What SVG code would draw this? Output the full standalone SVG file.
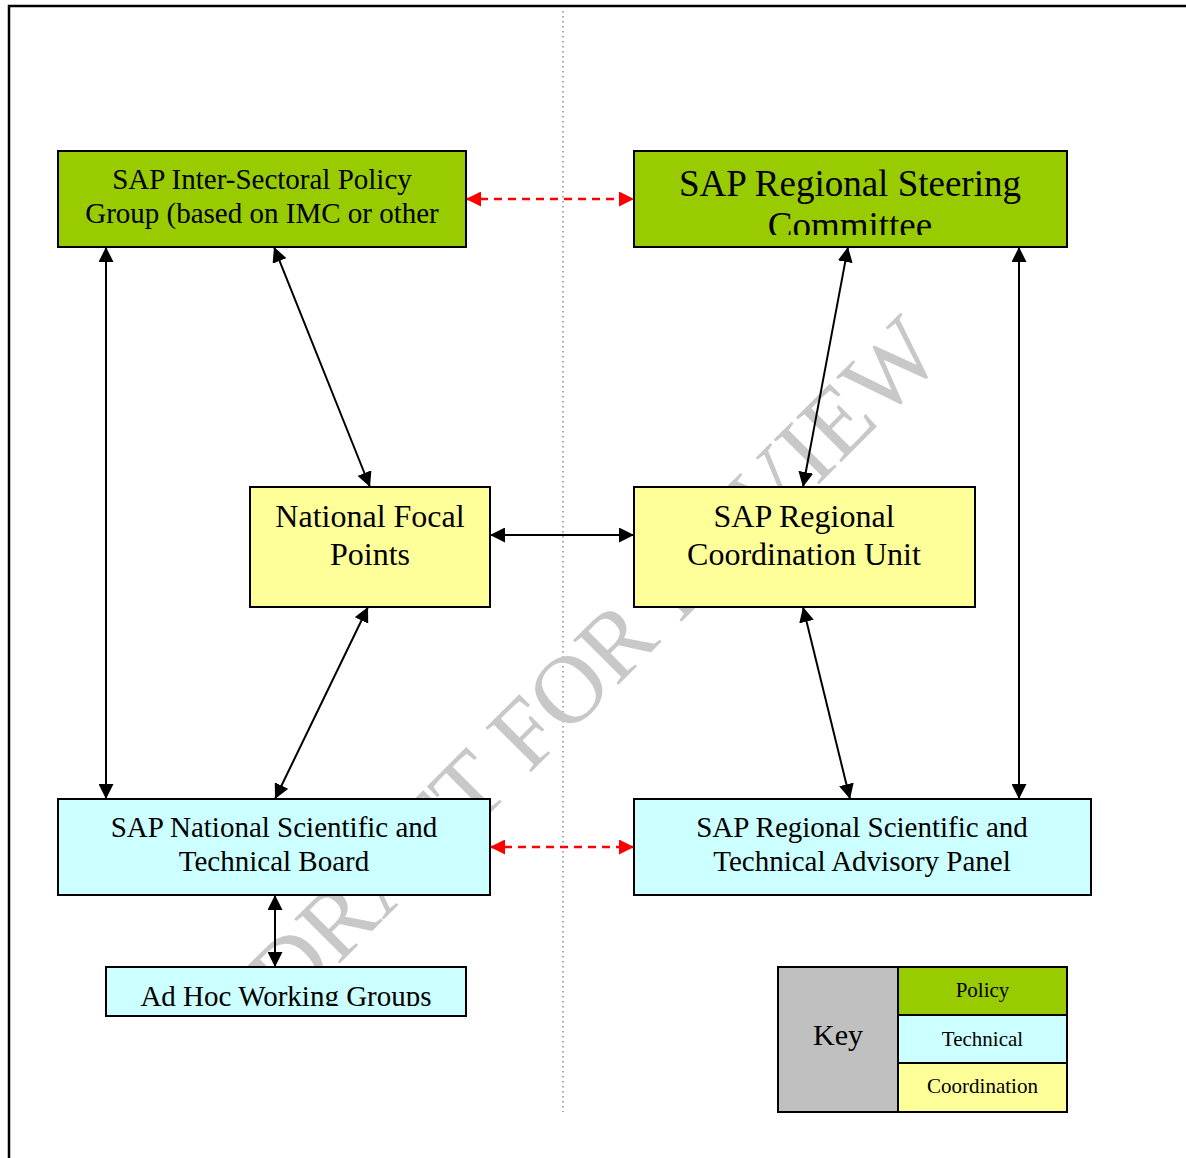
<svg xmlns="http://www.w3.org/2000/svg" width="1186" height="1158" viewBox="0 0 1186 1158">
<defs>
<style>
.box{stroke:#000;stroke-width:2}
.pol{fill:#99CC00}
.tec{fill:#CCFFFF}
.coo{fill:#FFFF99}
.key{fill:#C0C0C0}
.t{font-family:"Liberation Serif","Times New Roman",serif;fill:#000;text-anchor:middle}
.c{stroke:#000;stroke-width:2;fill:none;marker-start:url(#ab);marker-end:url(#ab)}
.r{stroke:#FF0000;stroke-width:2.5;stroke-dasharray:8 6;fill:none;marker-start:url(#ar);marker-end:url(#ar)}
</style>
<marker id="ab" markerUnits="userSpaceOnUse" markerWidth="15" markerHeight="15" refX="15" refY="7.5" orient="auto-start-reverse" viewBox="0 0 15 15">
<path d="M0,0 L15,7.5 L0,15 z" fill="#000"/>
</marker>
<marker id="ar" markerUnits="userSpaceOnUse" markerWidth="15" markerHeight="15" refX="15" refY="7.5" orient="auto-start-reverse" viewBox="0 0 15 15">
<path d="M0,0 L15,7.5 L0,15 z" fill="#FF0000"/>
</marker>
<clipPath id="clip2"><rect x="634" y="151" width="433" height="84"/></clipPath>
<clipPath id="clip7"><rect x="106" y="967" width="360" height="39"/></clipPath>
</defs>
<rect x="9" y="6" width="1300" height="1300" fill="#fff" stroke="#000" stroke-width="2.5"/>
<line x1="563" y1="11" x2="563" y2="1112" stroke="#8c8c8c" stroke-width="1.5" stroke-dasharray="1.5 3.5"/>
<g id="watermark" transform="translate(594 664) rotate(-45)">
<text x="0" y="32" font-family="Liberation Serif,serif" font-size="97" fill="#c8c8c8" text-anchor="middle">DRAFT FOR REVIEW</text>
</g>
<g id="connectors">
<line class="r" x1="466" y1="199" x2="634" y2="199"/>
<line class="r" x1="490" y1="847" x2="634" y2="847"/>
<line class="c" x1="106" y1="247" x2="106" y2="799"/>
<line class="c" x1="274" y1="247" x2="370" y2="487"/>
<line class="c" x1="848" y1="247" x2="803" y2="487"/>
<line class="c" x1="1019" y1="247" x2="1019" y2="799"/>
<line class="c" x1="490" y1="535" x2="634" y2="535"/>
<line class="c" x1="368" y1="607" x2="275" y2="799"/>
<line class="c" x1="803" y1="607" x2="850" y2="799"/>
<line class="c" x1="275" y1="895" x2="275" y2="967"/>
</g>
<g id="policy-group">
<rect class="box pol" x="58" y="151" width="408" height="96"/>
<text class="t" font-size="29" x="262" y="189">SAP Inter-Sectoral Policy</text>
<text class="t" font-size="29" x="262" y="223">Group (based on IMC or other</text>
</g>
<g id="steering-committee">
<rect class="box pol" x="634" y="151" width="433" height="96"/>
<g clip-path="url(#clip2)">
<text class="t" font-size="37" x="850" y="196">SAP Regional Steering</text>
<text class="t" font-size="37" x="850" y="238">Committee</text>
</g>
</g>
<g id="national-focal-points">
<rect class="box coo" x="250" y="487" width="240" height="120"/>
<text class="t" font-size="32" x="370" y="527">National Focal</text>
<text class="t" font-size="32" x="370" y="565">Points</text>
</g>
<g id="coordination-unit">
<rect class="box coo" x="634" y="487" width="341" height="120"/>
<text class="t" font-size="32" x="804" y="527">SAP Regional</text>
<text class="t" font-size="32" x="804" y="565">Coordination Unit</text>
</g>
<g id="national-board">
<rect class="box tec" x="58" y="799" width="432" height="96"/>
<text class="t" font-size="29" x="274" y="837">SAP National Scientific and</text>
<text class="t" font-size="29" x="274" y="871">Technical Board</text>
</g>
<g id="regional-panel">
<rect class="box tec" x="634" y="799" width="457" height="96"/>
<text class="t" font-size="29" x="862" y="837">SAP Regional Scientific and</text>
<text class="t" font-size="29" x="862" y="871">Technical Advisory Panel</text>
</g>
<g id="ad-hoc-groups">
<rect class="box tec" x="106" y="967" width="360" height="49"/>
<g clip-path="url(#clip7)">
<text class="t" font-size="29" x="286" y="1006">Ad Hoc Working Groups</text>
</g>
</g>
<g id="key">
<rect class="box key" x="778" y="967" width="120" height="145"/>
<text class="t" font-size="30" x="838" y="1045">Key</text>
<rect class="box pol" x="898" y="967" width="169" height="48"/>
<text class="t" font-size="21" x="982.5" y="997">Policy</text>
<rect class="box tec" x="898" y="1015" width="169" height="48"/>
<text class="t" font-size="21" x="982.5" y="1046">Technical</text>
<rect class="box coo" x="898" y="1063" width="169" height="49"/>
<text class="t" font-size="21" x="982.5" y="1093">Coordination</text>
</g>
</svg>
